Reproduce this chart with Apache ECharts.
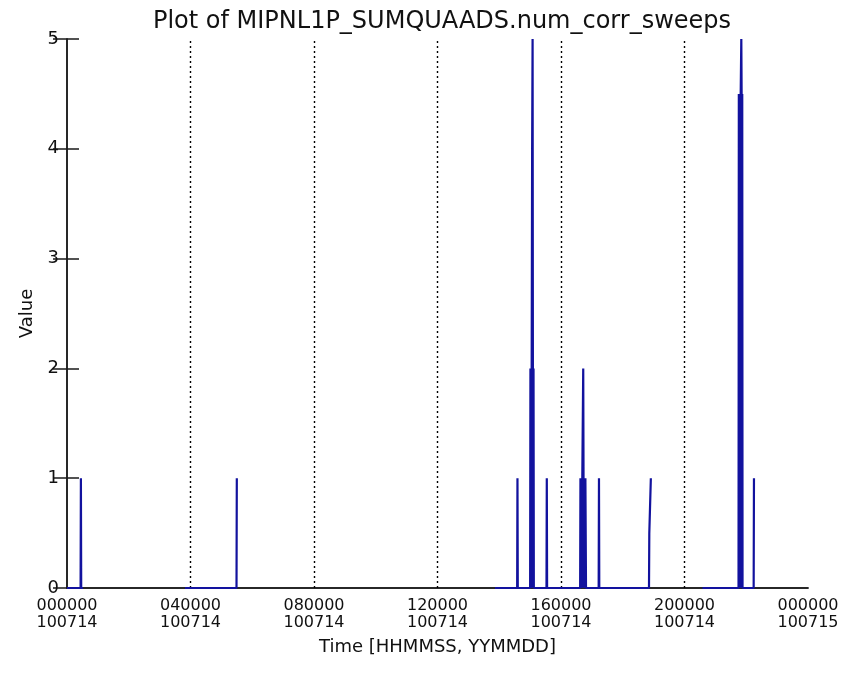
<!DOCTYPE html>
<html>
<head>
<meta charset="utf-8">
<script src="https://cdn.jsdelivr.net/npm/echarts@6/dist/echarts.min.js"></script>
<style>
html,body{margin:0;padding:0;background:#fff;}
#chart{width:857px;height:675px;}
</style>
</head>
<body>
<div id="chart"></div>
<script>
// Time in hours since 000000 on 100714; null value = data gap
var times = [
  0.00, 0.44, 0.45, 0.46, 0.52, 0.53,
  3.82, 5.49, 5.50, 5.51,
  13.86, 14.58, 14.59, 14.60,
  15.00, 15.01, 15.02, 15.03, 15.04, 15.05, 15.06, 15.065, 15.07, 15.08, 15.09, 15.10, 15.11, 15.12,
  15.53, 15.54, 15.55,
  16.62, 16.63, 16.65, 16.66, 16.68, 16.69, 16.71, 16.72, 16.73, 16.75, 16.76, 16.78, 16.79, 16.81,
  17.22, 17.23, 17.24,
  18.85, 18.86, 18.91, 18.92,
  20.58, 21.75, 21.76, 21.77, 21.78, 21.79, 21.80, 21.81, 21.82, 21.83, 21.84, 21.85, 21.86, 21.87, 21.88,
  22.24, 22.25
];
var values = [
  0, 0, 1, 0, 0, null,
  0, 0, 1, null,
  0, 0, 1, 0,
  0, 2, 0, 2, 0, 2, 2, 4, 4, 5, 2, 0, 2, 0,
  0, 1, 0,
  0, 1, 0, 1, 0, 1, 1, 2, 1, 0, 1, 0, 1, 0,
  0, 1, 0,
  0, 0.5, 1, null,
  0, 0, 4.5, 0, 4.5, 0, 4.5, 0, 4.5, 4.5, 5, 4.5, 0, 4.5, 0,
  0, 1
];
var xTickTimes = ['000000', '040000', '080000', '120000', '160000', '200000', '000000'];
var xTickDates = ['100714', '100714', '100714', '100714', '100714', '100714', '100715'];
var gridHours = [4, 8, 12, 16, 20];
var yTicks = [0, 1, 2, 3, 4, 5];

var seriesData = times.map(function (t, i) {
  return [t, values[i] === null ? '-' : values[i]];
});

var chart = echarts.init(document.getElementById('chart'));
var axisCol = '#1a1a1a';
var font = 'DejaVu Sans';
chart.setOption({
  animation: false,
  backgroundColor: '#ffffff',
  title: {
    text: 'Plot of MIPNL1P_SUMQUAADS.num_corr_sweeps',
    left: 437,
    top: 5,
    textAlign: 'center',
    textStyle: { fontFamily: font, fontSize: 24, fontWeight: 'normal', color: '#111' }
  },
  grid: { left: 67, right: 49, top: 39, bottom: 87, containLabel: false },
  xAxis: [{
    type: 'value',
    min: 0, max: 24, interval: 4,
    position: 'bottom',
    offset: 1.5,
    name: 'Time [HHMMSS, YYMMDD]',
    nameLocation: 'middle',
    nameGap: 49,
    nameTextStyle: { fontFamily: font, fontSize: 18, color: '#111' },
    axisLine: { show: true, lineStyle: { color: axisCol, width: 1.5 } },
    axisTick: { show: false },
    axisLabel: {
      fontFamily: font, fontSize: 16, color: '#111', margin: 8, lineHeight: 17,
      formatter: function (v) {
        var i = Math.round(v / 4);
        return xTickTimes[i] + '\n' + xTickDates[i];
      }
    },
    splitLine: { show: false }
  }, {
    type: 'value',
    min: 0, max: 24, interval: 4,
    position: 'top',
    axisLine: { show: true, lineStyle: { color: axisCol, width: 1.5 } },
    axisTick: { show: false },
    axisLabel: { show: false },
    splitLine: { show: false }
  }],
  yAxis: [{
    type: 'value',
    min: yTicks[0], max: yTicks[yTicks.length - 1], interval: 1,
    position: 'left',
    name: 'Value',
    nameLocation: 'middle',
    nameGap: 31,
    nameTextStyle: { fontFamily: font, fontSize: 18, color: '#111' },
    axisLine: { show: true, lineStyle: { color: axisCol, width: 1.5 } },
    axisTick: { show: true, inside: true, length: 12, lineStyle: { color: axisCol, width: 1.5 } },
    axisLabel: { fontFamily: font, fontSize: 18, color: '#111', margin: 8 },
    splitLine: { show: false }
  }, {
    type: 'value',
    min: yTicks[0], max: yTicks[yTicks.length - 1], interval: 1,
    position: 'right',
    axisLine: { show: true, lineStyle: { color: axisCol, width: 1.5 } },
    axisTick: { show: true, inside: true, length: 14, lineStyle: { color: axisCol, width: 1.5 } },
    axisLabel: { show: false },
    splitLine: { show: false }
  }],
  series: [{
    type: 'line',
    xAxisIndex: 0,
    yAxisIndex: 0,
    data: seriesData,
    showSymbol: false,
    symbol: 'none',
    clip: false,
    connectNulls: false,
    z: 5,
    lineStyle: { color: '#12129e', width: 2.2 },
    markLine: {
      silent: true,
      symbol: ['none', 'none'],
      label: { show: false },
      z: 1,
      lineStyle: { color: '#000', width: 1.4, type: [2, 3] },
      data: gridHours.map(function (h) { return { xAxis: h }; })
    }
  }]
});
</script>
</body>
</html>
